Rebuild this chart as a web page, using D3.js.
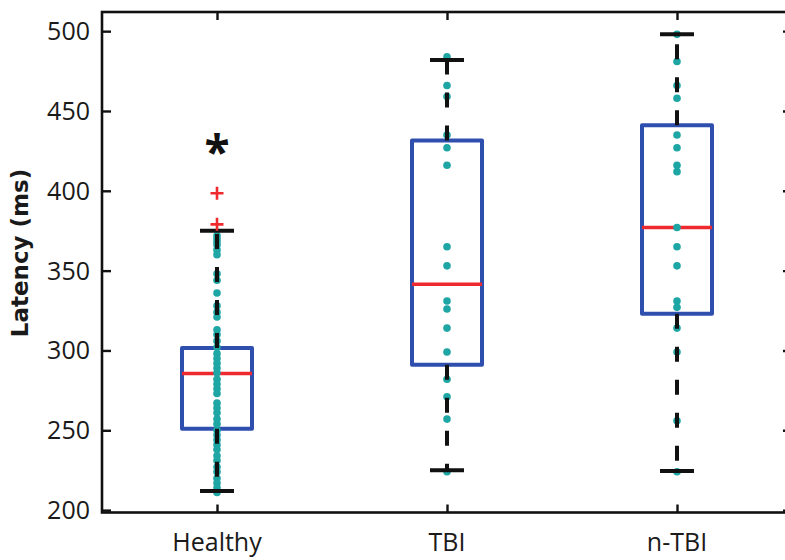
<!DOCTYPE html>
<html>
<head>
<meta charset="utf-8">
<script src="https://cdn.jsdelivr.net/npm/d3@7"></script>
<style>
  html, body { margin: 0; padding: 0; background: #fff; }
  svg { display: block; }
</style>
</head>
<body>
<svg id="chart" width="785" height="560"></svg>
<script>
// Groups along the x axis
const groups = ["Healthy", "TBI", "n-TBI"];

// Individual latencies (ms) per group
const healthyPts = [372, 370, 368, 366, 363, 360, 348, 344, 336, 328, 324, 321, 313, 310, 306,
  302, 298, 295, 292, 289, 286, 282, 279, 276, 273, 267, 264, 261, 257, 254, 250, 247, 244,
  241, 238, 234, 231, 227, 224, 220, 217, 214, 211];
const tbiPts = [484, 466, 459, 435, 427, 416, 365, 353, 331, 326, 314, 299, 282, 271, 257, 224];
const ntbiPts = [498, 481, 466, 458, 435, 427, 416, 412, 377, 365, 353, 331, 327, 314, 299, 256, 224];
const points = [healthyPts, tbiPts, ntbiPts];

// Box summaries: lower whisker, Q1, median, Q3, upper whisker
const whiskerLow = [212, 225, 224.5];
const q1 = [251, 291, 323];
const median = [285.5, 341.5, 377];
const q3 = [301.5, 431.5, 441];
const whiskerHigh = [375, 482, 498];

// Outliers (flagged with +) and significance marker
const outlierGroup = ["Healthy", "Healthy"];
const outlierVals = [398.5, 379];
const starGroup = ["Healthy"];
const starVals = [427];

// Axis ticks
const yTicks = [200, 250, 300, 350, 400, 450, 500];

const svg = d3.select("#chart");

const x = d3.scaleLinear().domain([0.5, 3.5]).range([102, 792]);
const xPos = name => x(groups.indexOf(name) + 1);
const y = d3.scaleLinear().domain([198.5, 512]).range([512.5, 12]);

const boxHalf = 35, capHalf = 17;
const blue = "#2f4fae", red = "#ee2a2e", teal = "#1ea6a4";

const font = "'Open Sans', 'DejaVu Sans', sans-serif";

// Axes: ticks point inward on all four sides; labels only on left and bottom
const gLeft = svg.append("g").attr("transform", `translate(${x.range()[0]},0)`)
  .call(d3.axisRight(y).tickValues(yTicks).tickSize(9).tickFormat(""));
const gRight = svg.append("g").attr("transform", `translate(${x.range()[1]},0)`)
  .call(d3.axisLeft(y).tickValues(yTicks).tickSize(9).tickFormat(""));
const gBottom = svg.append("g").attr("transform", `translate(0,${y.range()[0]})`)
  .call(d3.axisTop(x).tickValues([1, 2, 3]).tickSize(8).tickFormat(""));
const gTop = svg.append("g").attr("transform", `translate(0,${y.range()[1]})`)
  .call(d3.axisBottom(x).tickValues([1, 2, 3]).tickSize(8).tickFormat(""));

[gLeft, gRight, gBottom, gTop].forEach(g => {
  g.select(".domain").remove();
  g.selectAll(".tick line").attr("stroke", "#111").attr("stroke-width", 2.4);
});

// Frame
svg.append("rect")
  .attr("x", x.range()[0]).attr("y", y.range()[1])
  .attr("width", x.range()[1] - x.range()[0])
  .attr("height", y.range()[0] - y.range()[1])
  .attr("fill", "none").attr("stroke", "#111").attr("stroke-width", 2.6);

// Y tick labels
svg.append("g").selectAll("text").data(yTicks).join("text")
  .attr("x", 90).attr("y", d => y(d)).attr("dy", "0.36em")
  .attr("text-anchor", "end")
  .attr("font-family", font).attr("font-size", 25).attr("fill", "#1a1a1a")
  .text(d => d);

// X tick labels
svg.append("g").selectAll("text").data(groups).join("text")
  .attr("x", d => xPos(d)).attr("y", 551)
  .attr("text-anchor", "middle")
  .attr("font-family", font).attr("font-size", 25).attr("fill", "#1a1a1a")
  .text(d => d);

// Y axis title
svg.append("text")
  .attr("transform", "translate(28,253) rotate(-90)")
  .attr("text-anchor", "middle")
  .attr("font-family", "'DejaVu Sans', sans-serif").attr("font-size", 23).attr("font-weight", "bold")
  .attr("fill", "#1a1a1a")
  .text("Latency (ms)");

const idx = groups.map((g, i) => i);

// Boxes
svg.append("g").selectAll("rect").data(idx).join("rect")
  .attr("x", i => x(i + 1) - boxHalf)
  .attr("y", i => y(q3[i]))
  .attr("width", boxHalf * 2)
  .attr("height", i => y(q1[i]) - y(q3[i]))
  .attr("fill", "none").attr("stroke", blue).attr("stroke-width", 4)
  .attr("stroke-linejoin", "round");

// Medians
svg.append("g").selectAll("line").data(idx).join("line")
  .attr("x1", i => x(i + 1) - boxHalf).attr("x2", i => x(i + 1) + boxHalf)
  .attr("y1", i => y(median[i])).attr("y2", i => y(median[i]))
  .attr("stroke", red).attr("stroke-width", 3.5);

// Individual subjects
const dotData = points.flatMap((arr, i) => arr.map(v => ({ i, v })));
svg.append("g").selectAll("circle").data(dotData).join("circle")
  .attr("cx", d => x(d.i + 1)).attr("cy", d => y(d.v)).attr("r", 3.8)
  .attr("fill", teal);

// Whiskers (dashed), drawn from the box edges outward
const whiskers = idx.flatMap(i => [
  { i, from: q3[i], to: whiskerHigh[i] },
  { i, from: q1[i], to: whiskerLow[i] }
]);
svg.append("g").selectAll("line").data(whiskers).join("line")
  .attr("x1", d => x(d.i + 1)).attr("x2", d => x(d.i + 1))
  .attr("y1", d => y(d.from)).attr("y2", d => y(d.to))
  .attr("stroke", "#111").attr("stroke-width", 4)
  .attr("stroke-dasharray", "15,18");

// Whisker caps
const caps = idx.flatMap(i => [{ i, v: whiskerHigh[i] }, { i, v: whiskerLow[i] }]);
svg.append("g").selectAll("line").data(caps).join("line")
  .attr("x1", d => x(d.i + 1) - capHalf).attr("x2", d => x(d.i + 1) + capHalf)
  .attr("y1", d => y(d.v)).attr("y2", d => y(d.v))
  .attr("stroke", "#111").attr("stroke-width", 4);

// Outliers
svg.append("g").selectAll("path").data(outlierVals.map((v, k) => ({ g: outlierGroup[k], v }))).join("path")
  .attr("transform", d => `translate(${xPos(d.g)},${y(d.v)})`)
  .attr("d", "M-6.5,0H6.5M0,-6.5V6.5")
  .attr("fill", "none").attr("stroke", red).attr("stroke-width", 2.6);

// Significance marker
svg.append("g").selectAll("text").data(starVals.map((v, k) => ({ g: starGroup[k], v }))).join("text")
  .attr("x", d => xPos(d.g)).attr("y", d => y(d.v) + 21)
  .attr("text-anchor", "middle")
  .attr("font-family", font).attr("font-size", 46).attr("font-weight", "bold")
  .attr("fill", "#111")
  .text("*");
</script>
</body>
</html>
